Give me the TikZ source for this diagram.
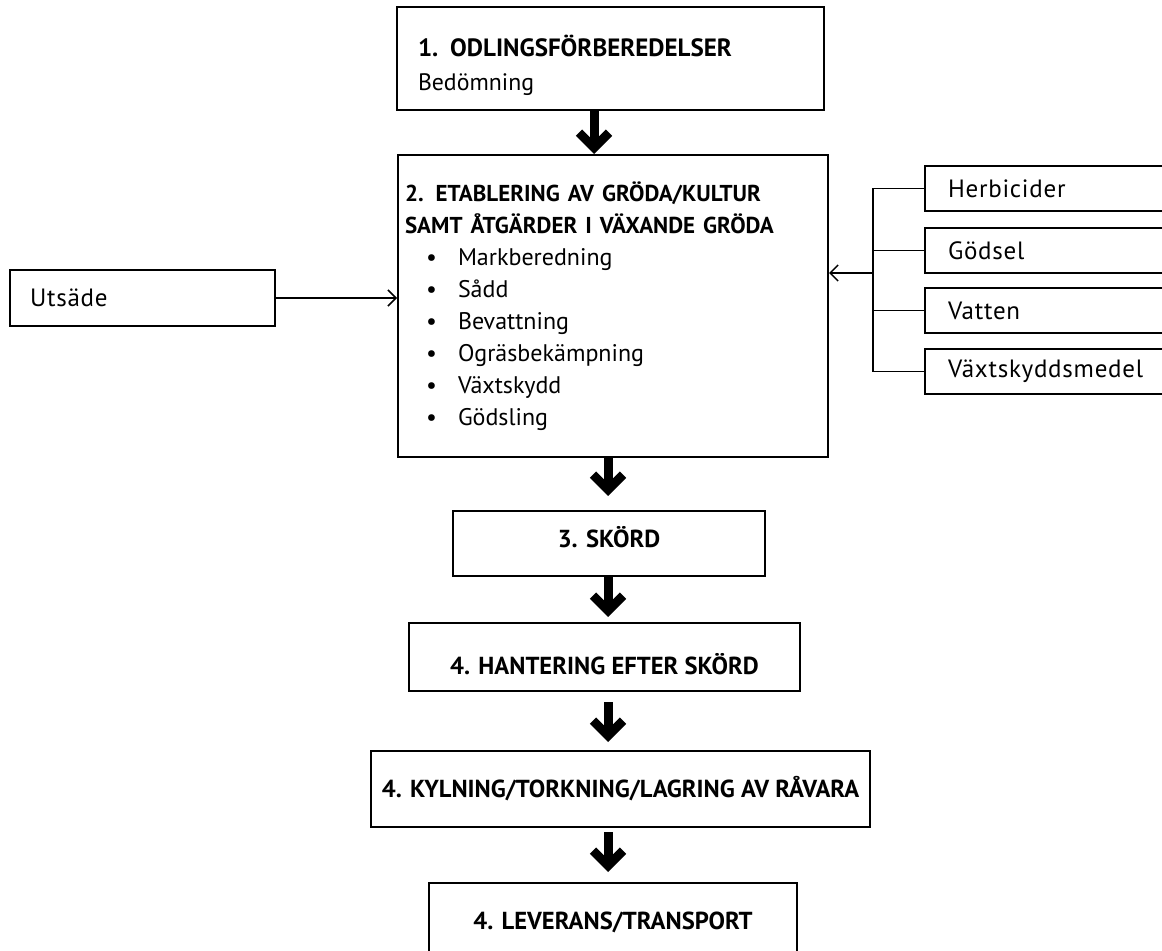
\documentclass[tikz,border=0pt]{standalone}
\usepackage{fontspec}
\setmainfont{PT Sans}
\usetikzlibrary{arrows.meta,positioning}

% bullet line inside the second step
\newcommand{\punkt}[1]{\makebox[26.5pt][r]{\textbullet\hspace{10.5pt}}#1}

\begin{document}
\begin{tikzpicture}[
    x=0.5pt, y=-0.5pt,
    box/.style={rectangle,draw,line width=1pt,inner sep=0pt},
    stepbox/.style={box,font=\bfseries\fontsize{12.3}{15}\selectfont,align=center},
    inbox/.style={box,anchor=north west,minimum width=130pt,minimum height=22.5pt,
        inner xsep=11.5pt,text width=107pt,align=left,
        font=\fontsize{12.5}{15}\selectfont\addfontfeatures{LetterSpace=3}},
    bigarrow/.style={line width=4.5pt,-{Straight Barb[length=7.5pt,width=15pt]}},
    thinarrow/.style={line width=0.75pt,-{Straight Barb[length=4pt,width=8pt]}},
    link/.style={line width=0.9pt}
]
\clip (0,0) rectangle (1162,951);

%--- Main steps ---%
\node[box,minimum width=213.5pt,minimum height=51.5pt,inner xsep=10.5pt,
      text width=192.5pt,align=left,font=\fontsize{11.9}{17}\selectfont,
      text height=9pt,text depth=10.5pt]
      (odling) at (610.5,58.5)
      {{\fontsize{12.5}{15}\selectfont\bfseries 1. ODLINGSFÖRBEREDELSER}\\Bedömning};

\node[box,minimum width=215pt,minimum height=151pt,inner xsep=3.5pt,
      text width=208pt,align=left,font=\fontsize{12}{16}\selectfont]
      (etab) at (613,306)
      {{\fontsize{11.5}{15.5}\selectfont\bfseries 2. ETABLERING AV GRÖDA/KULTUR}\\
       {\fontsize{11.5}{15.5}\selectfont\bfseries SAMT ÅTGÄRDER I VÄXANDE GRÖDA}\\
       \punkt{Markberedning}\\
       \punkt{Sådd}\\
       \punkt{Bevattning}\\
       \punkt{Ogräsbekämpning}\\
       \punkt{Växtskydd}\\
       \punkt{Gödsling}};

\node[stepbox,minimum width=156pt,minimum height=32.5pt,text height=9pt,text depth=5pt]
      (skord) at (609,543.5) {3. SKÖRD};
\node[stepbox,minimum width=195.5pt,minimum height=34pt,text height=18pt,text depth=0pt]
      (hantering) at (604.5,657) {4. HANTERING EFTER SKÖRD};
\node[stepbox,minimum width=249.5pt,minimum height=38pt,text height=9pt,text depth=0.5pt]
      (kylning) at (620.5,789) {4. KYLNING/TORKNING/LAGRING AV RÅVARA};
\node[stepbox,minimum width=184pt,minimum height=39pt,text height=9pt,text depth=1.5pt]
      (leverans) at (613,922) {4. LEVERANS/TRANSPORT};

%--- Inputs ---%
\node[box,minimum width=132.5pt,minimum height=28pt,inner xsep=10pt,text width=112.5pt,
      align=left,font=\fontsize{12.5}{15}\selectfont\addfontfeatures{LetterSpace=3}]
      (utsade) at (142.5,298) {Utsäde};

\node[inbox] (herb) at (924,165) {Herbicider};
\node[inbox] (godsel) at (924,227) {Gödsel};
\node[inbox] (vatten) at (924,287) {Vatten};
\node[inbox] (vaxt) at (924,348) {Växtskyddsmedel};

\coordinate (spine1) at (594,0);
\coordinate (spine) at (608,0);
\coordinate (bus) at (873,0);
\coordinate (inflow) at (873,273);

%--- Flow arrows ---%
\draw[bigarrow] (odling.south -| spine1) -- (etab.north -| spine1);
\draw[bigarrow,shorten >=7pt] (etab.south -| spine) -- (skord.north -| spine);
\draw[bigarrow,shorten >=2.5pt] (skord.south -| spine) -- (hantering.north -| spine);
\draw[bigarrow,shorten <=5pt,shorten >=4pt] (hantering.south -| spine) -- (kylning.north -| spine);
\draw[bigarrow,shorten <=2pt,shorten >=5pt] (kylning.south -| spine) -- (leverans.north -| spine);

%--- Input connectors ---%
\draw[thinarrow] (utsade.east) -- (utsade.east -| etab.west);
\draw[link] (herb.west) -- (herb.west -| bus) -- (vaxt.west -| bus) -- (vaxt.west);
\draw[link] (godsel.west) -- (godsel.west -| bus);
\draw[link] (vatten.west) -- (vatten.west -| bus);
\draw[thinarrow] (inflow) -- (inflow -| etab.east);

\end{tikzpicture}
\end{document}
